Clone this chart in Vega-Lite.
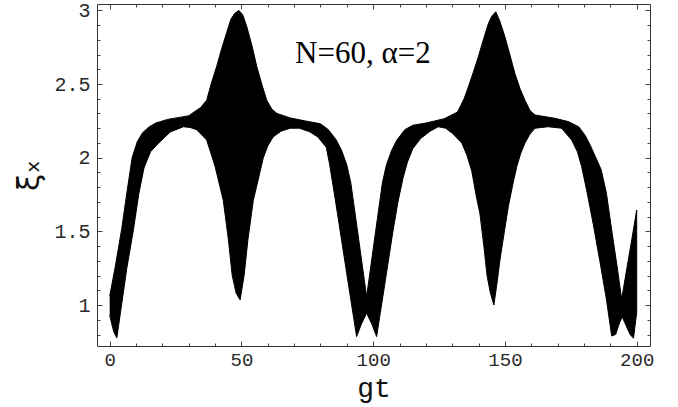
{
  "$schema": "https://vega.github.io/schema/vega-lite/v6.json",
  "width": 553,
  "height": 342,
  "autosize": "none",
  "padding": {"left": 97, "top": 4, "right": 28, "bottom": 61},
  "background": "white",
  "config": {
    "view": {"stroke": "#333", "strokeWidth": 1},
    "axis": {"grid": false, "domain": false, "tickColor": "#444", "tickWidth": 1, "labelColor": "#2a2a2a", "titleColor": "#111"}
  },
  "datasets": {
    "band": [
      {"gt":0,"xi":1.06,"o":1},{"gt":2,"xi":1.25,"o":2},{"gt":4.5,"xi":1.51,"o":3},{"gt":6.5,"xi":1.76,"o":4},{"gt":8.5,"xi":2.0,"o":5},{"gt":10.5,"xi":2.11,"o":6},{"gt":12.5,"xi":2.17,"o":7},{"gt":15,"xi":2.21,"o":8},{"gt":17.5,"xi":2.235,"o":9},{"gt":22,"xi":2.26,"o":10},
      {"gt":27,"xi":2.275,"o":11},{"gt":30,"xi":2.285,"o":12},{"gt":32,"xi":2.31,"o":13},{"gt":34.5,"xi":2.34,"o":14},{"gt":36.8,"xi":2.39,"o":15},{"gt":38.5,"xi":2.5,"o":16},{"gt":40.6,"xi":2.62,"o":17},{"gt":42.5,"xi":2.74,"o":18},{"gt":44.4,"xi":2.85,"o":19},{"gt":46,"xi":2.94,"o":20},
      {"gt":47.5,"xi":2.98,"o":21},{"gt":49,"xi":3.0,"o":22},{"gt":50.5,"xi":2.97,"o":23},{"gt":52,"xi":2.89,"o":24},{"gt":54,"xi":2.76,"o":25},{"gt":55.8,"xi":2.62,"o":26},{"gt":57.7,"xi":2.5,"o":27},{"gt":59.6,"xi":2.39,"o":28},{"gt":61.5,"xi":2.33,"o":29},{"gt":63.5,"xi":2.3,"o":30},
      {"gt":68.5,"xi":2.27,"o":31},{"gt":74,"xi":2.25,"o":32},{"gt":80,"xi":2.23,"o":33},{"gt":83,"xi":2.19,"o":34},{"gt":86,"xi":2.12,"o":35},{"gt":88,"xi":2.05,"o":36},{"gt":90,"xi":1.95,"o":37},{"gt":91.5,"xi":1.83,"o":38},{"gt":94,"xi":1.51,"o":39},{"gt":97.5,"xi":1.057,"o":40},
      {"gt":101,"xi":1.51,"o":41},{"gt":103.5,"xi":1.83,"o":42},{"gt":105,"xi":1.95,"o":43},{"gt":107,"xi":2.05,"o":44},{"gt":109,"xi":2.12,"o":45},{"gt":112,"xi":2.19,"o":46},{"gt":115,"xi":2.22,"o":47},{"gt":120,"xi":2.235,"o":48},{"gt":127,"xi":2.265,"o":49},{"gt":132,"xi":2.31,"o":50},
      {"gt":134.5,"xi":2.4,"o":51},{"gt":136.1,"xi":2.48,"o":52},{"gt":138,"xi":2.58,"o":53},{"gt":139.9,"xi":2.685,"o":54},{"gt":141.8,"xi":2.8,"o":55},{"gt":143.7,"xi":2.91,"o":56},{"gt":145,"xi":2.96,"o":57},{"gt":146.5,"xi":2.99,"o":58},{"gt":148,"xi":2.93,"o":59},{"gt":150,"xi":2.82,"o":60},
      {"gt":152,"xi":2.69,"o":61},{"gt":153.8,"xi":2.57,"o":62},{"gt":155.7,"xi":2.47,"o":63},{"gt":157.6,"xi":2.39,"o":64},{"gt":159.5,"xi":2.32,"o":65},{"gt":161.4,"xi":2.29,"o":66},{"gt":169,"xi":2.267,"o":67},{"gt":174,"xi":2.245,"o":68},{"gt":178,"xi":2.21,"o":69},{"gt":180.5,"xi":2.15,"o":70},
      {"gt":182.5,"xi":2.08,"o":71},{"gt":184.5,"xi":2.0,"o":72},{"gt":186.5,"xi":1.92,"o":73},{"gt":188.5,"xi":1.76,"o":74},{"gt":190.5,"xi":1.51,"o":75},{"gt":192.5,"xi":1.27,"o":76},{"gt":194.3,"xi":1.04,"o":77},{"gt":196,"xi":1.22,"o":78},{"gt":198,"xi":1.43,"o":79},{"gt":200,"xi":1.645,"o":80},
      {"gt":200,"xi":0.95,"o":81},{"gt":198.8,"xi":0.775,"o":82},{"gt":197.5,"xi":0.8,"o":83},{"gt":196,"xi":0.86,"o":84},{"gt":194.5,"xi":0.92,"o":85},{"gt":193.5,"xi":0.88,"o":86},{"gt":192,"xi":0.8,"o":87},{"gt":190.5,"xi":0.79,"o":88},{"gt":188.5,"xi":1.04,"o":89},{"gt":186,"xi":1.3,"o":90},
      {"gt":183.5,"xi":1.55,"o":91},{"gt":181,"xi":1.78,"o":92},{"gt":179.1,"xi":1.94,"o":93},{"gt":177.5,"xi":2.04,"o":94},{"gt":175.3,"xi":2.12,"o":95},{"gt":171.5,"xi":2.2,"o":96},{"gt":166.4,"xi":2.21,"o":97},{"gt":161.4,"xi":2.2,"o":98},{"gt":159.5,"xi":2.16,"o":99},{"gt":157.6,"xi":2.1,"o":100},
      {"gt":156,"xi":2.03,"o":101},{"gt":154.5,"xi":1.94,"o":102},{"gt":153,"xi":1.82,"o":103},{"gt":151.3,"xi":1.67,"o":104},{"gt":149.8,"xi":1.5,"o":105},{"gt":148.1,"xi":1.306,"o":106},{"gt":147,"xi":1.15,"o":107},{"gt":145.8,"xi":1.0,"o":108},{"gt":144.5,"xi":1.08,"o":109},{"gt":143.2,"xi":1.2,"o":110},
      {"gt":142,"xi":1.4,"o":111},{"gt":140.5,"xi":1.62,"o":112},{"gt":139,"xi":1.75,"o":113},{"gt":137.4,"xi":1.91,"o":114},{"gt":135.5,"xi":2.02,"o":115},{"gt":133.6,"xi":2.1,"o":116},{"gt":130,"xi":2.166,"o":117},{"gt":127.5,"xi":2.2,"o":118},{"gt":124.7,"xi":2.21,"o":119},{"gt":121.6,"xi":2.18,"o":120},
      {"gt":118,"xi":2.13,"o":121},{"gt":115,"xi":2.06,"o":122},{"gt":113,"xi":1.97,"o":123},{"gt":111.3,"xi":1.86,"o":124},{"gt":109.4,"xi":1.7,"o":125},{"gt":107.4,"xi":1.49,"o":126},{"gt":105.5,"xi":1.27,"o":127},{"gt":103.6,"xi":1.05,"o":128},{"gt":101.3,"xi":0.786,"o":129},{"gt":99.5,"xi":0.87,"o":130},
      {"gt":97.5,"xi":0.945,"o":131},{"gt":95.5,"xi":0.87,"o":132},{"gt":93.7,"xi":0.786,"o":133},{"gt":91.3,"xi":1.06,"o":134},{"gt":89.3,"xi":1.29,"o":135},{"gt":87.4,"xi":1.51,"o":136},{"gt":85.4,"xi":1.74,"o":137},{"gt":83.4,"xi":1.96,"o":138},{"gt":82.2,"xi":2.07,"o":139},{"gt":79,"xi":2.14,"o":140},
      {"gt":76,"xi":2.175,"o":141},{"gt":72,"xi":2.2,"o":142},{"gt":68.5,"xi":2.2,"o":143},{"gt":65,"xi":2.18,"o":144},{"gt":62,"xi":2.14,"o":145},{"gt":60,"xi":2.08,"o":146},{"gt":58.3,"xi":2.0,"o":147},{"gt":54.5,"xi":1.71,"o":148},{"gt":52.5,"xi":1.45,"o":149},{"gt":51,"xi":1.2,"o":150},
      {"gt":49.5,"xi":1.035,"o":151},{"gt":48,"xi":1.08,"o":152},{"gt":46.5,"xi":1.2,"o":153},{"gt":45,"xi":1.45,"o":154},{"gt":43.1,"xi":1.71,"o":155},{"gt":40,"xi":1.94,"o":156},{"gt":36.8,"xi":2.12,"o":157},{"gt":33,"xi":2.19,"o":158},{"gt":30.5,"xi":2.205,"o":159},{"gt":28,"xi":2.21,"o":160},
      {"gt":23,"xi":2.175,"o":161},{"gt":18.6,"xi":2.1,"o":162},{"gt":15.5,"xi":2.04,"o":163},{"gt":13,"xi":1.93,"o":164},{"gt":11,"xi":1.75,"o":165},{"gt":9,"xi":1.51,"o":166},{"gt":6.5,"xi":1.25,"o":167},{"gt":4.5,"xi":1.0,"o":168},{"gt":2.7,"xi":0.777,"o":169},{"gt":1.5,"xi":0.82,"o":170},
      {"gt":0,"xi":0.93,"o":171}
    ]
  },
  "resolve": {"axis": {"x": "independent", "y": "independent"}},
  "layer": [
    {
      "data": {"name": "band"},
      "mark": {"type": "line", "fill": "black", "stroke": "black", "strokeWidth": 1, "interpolate": "linear"},
      "encoding": {
        "x": {"field": "gt", "type": "quantitative", "scale": {"domain": [-4.82, 205.05], "nice": false, "zero": false},
          "axis": {"orient": "bottom", "values": [0, 50, 100, 150, 200], "format": "d", "tickSize": -5, "labelPadding": 9, "labelFont": "Liberation Mono", "labelFontSize": 19, "labelFlush": false, "title": "gt", "titleFont": "Liberation Mono", "titleFontSize": 28, "titleFontWeight": "normal", "titleBaseline": "alphabetic", "titleY": 50}},
        "y": {"field": "xi", "type": "quantitative", "scale": {"domain": [0.722, 3.043], "nice": false, "zero": false},
          "axis": {"orient": "left", "values": [1, 1.5, 2, 2.5, 3], "format": "~g", "tickSize": -5, "labelPadding": 12, "labelFont": "Liberation Mono", "labelFontSize": 20, "labelFlush": false, "title": "ξₓ", "titleFont": "DejaVu Sans", "titleFontSize": 31, "titleFontWeight": "normal", "titlePadding": 8}},
        "order": {"field": "o", "type": "quantitative"}
      }
    },
    {
      "data": {"values": [{"gt": 96.1, "xi": 2.642, "label": "N=60, α=2"}]},
      "mark": {"type": "text", "font": "Liberation Serif", "fontSize": 31, "color": "black", "align": "center", "baseline": "alphabetic"},
      "encoding": {
        "x": {"field": "gt", "type": "quantitative", "axis": null},
        "y": {"field": "xi", "type": "quantitative", "axis": null},
        "text": {"field": "label"}
      }
    },
    {
      "data": {"values": [{"gt": 0, "xi": 1}]},
      "mark": {"type": "point", "opacity": 0},
      "encoding": {
        "x": {"field": "gt", "type": "quantitative", "axis": {"orient": "bottom", "values": [10,20,30,40,60,70,80,90,110,120,130,140,160,170,180,190], "tickSize": -3, "labels": false, "title": null}},
        "y": {"field": "xi", "type": "quantitative", "axis": {"orient": "left", "values": [0.8,0.9,1.1,1.2,1.3,1.4,1.6,1.7,1.8,1.9,2.1,2.2,2.3,2.4,2.6,2.7,2.8,2.9], "tickSize": -3, "labels": false, "title": null}}
      }
    },
    {
      "data": {"values": [{"gt": 0, "xi": 1}]},
      "mark": {"type": "point", "opacity": 0},
      "encoding": {
        "x": {"field": "gt", "type": "quantitative", "axis": {"orient": "top", "values": [0, 50, 100, 150, 200], "tickSize": -5, "labels": false, "title": null}},
        "y": {"field": "xi", "type": "quantitative", "axis": {"orient": "right", "values": [1, 1.5, 2, 2.5, 3], "tickSize": -5, "labels": false, "title": null}}
      }
    },
    {
      "data": {"values": [{"gt": 0, "xi": 1}]},
      "mark": {"type": "point", "opacity": 0},
      "encoding": {
        "x": {"field": "gt", "type": "quantitative", "axis": {"orient": "top", "values": [10,20,30,40,60,70,80,90,110,120,130,140,160,170,180,190], "tickSize": -3, "labels": false, "title": null}},
        "y": {"field": "xi", "type": "quantitative", "axis": {"orient": "right", "values": [0.8,0.9,1.1,1.2,1.3,1.4,1.6,1.7,1.8,1.9,2.1,2.2,2.3,2.4,2.6,2.7,2.8,2.9], "tickSize": -3, "labels": false, "title": null}}
      }
    }
  ]
}
